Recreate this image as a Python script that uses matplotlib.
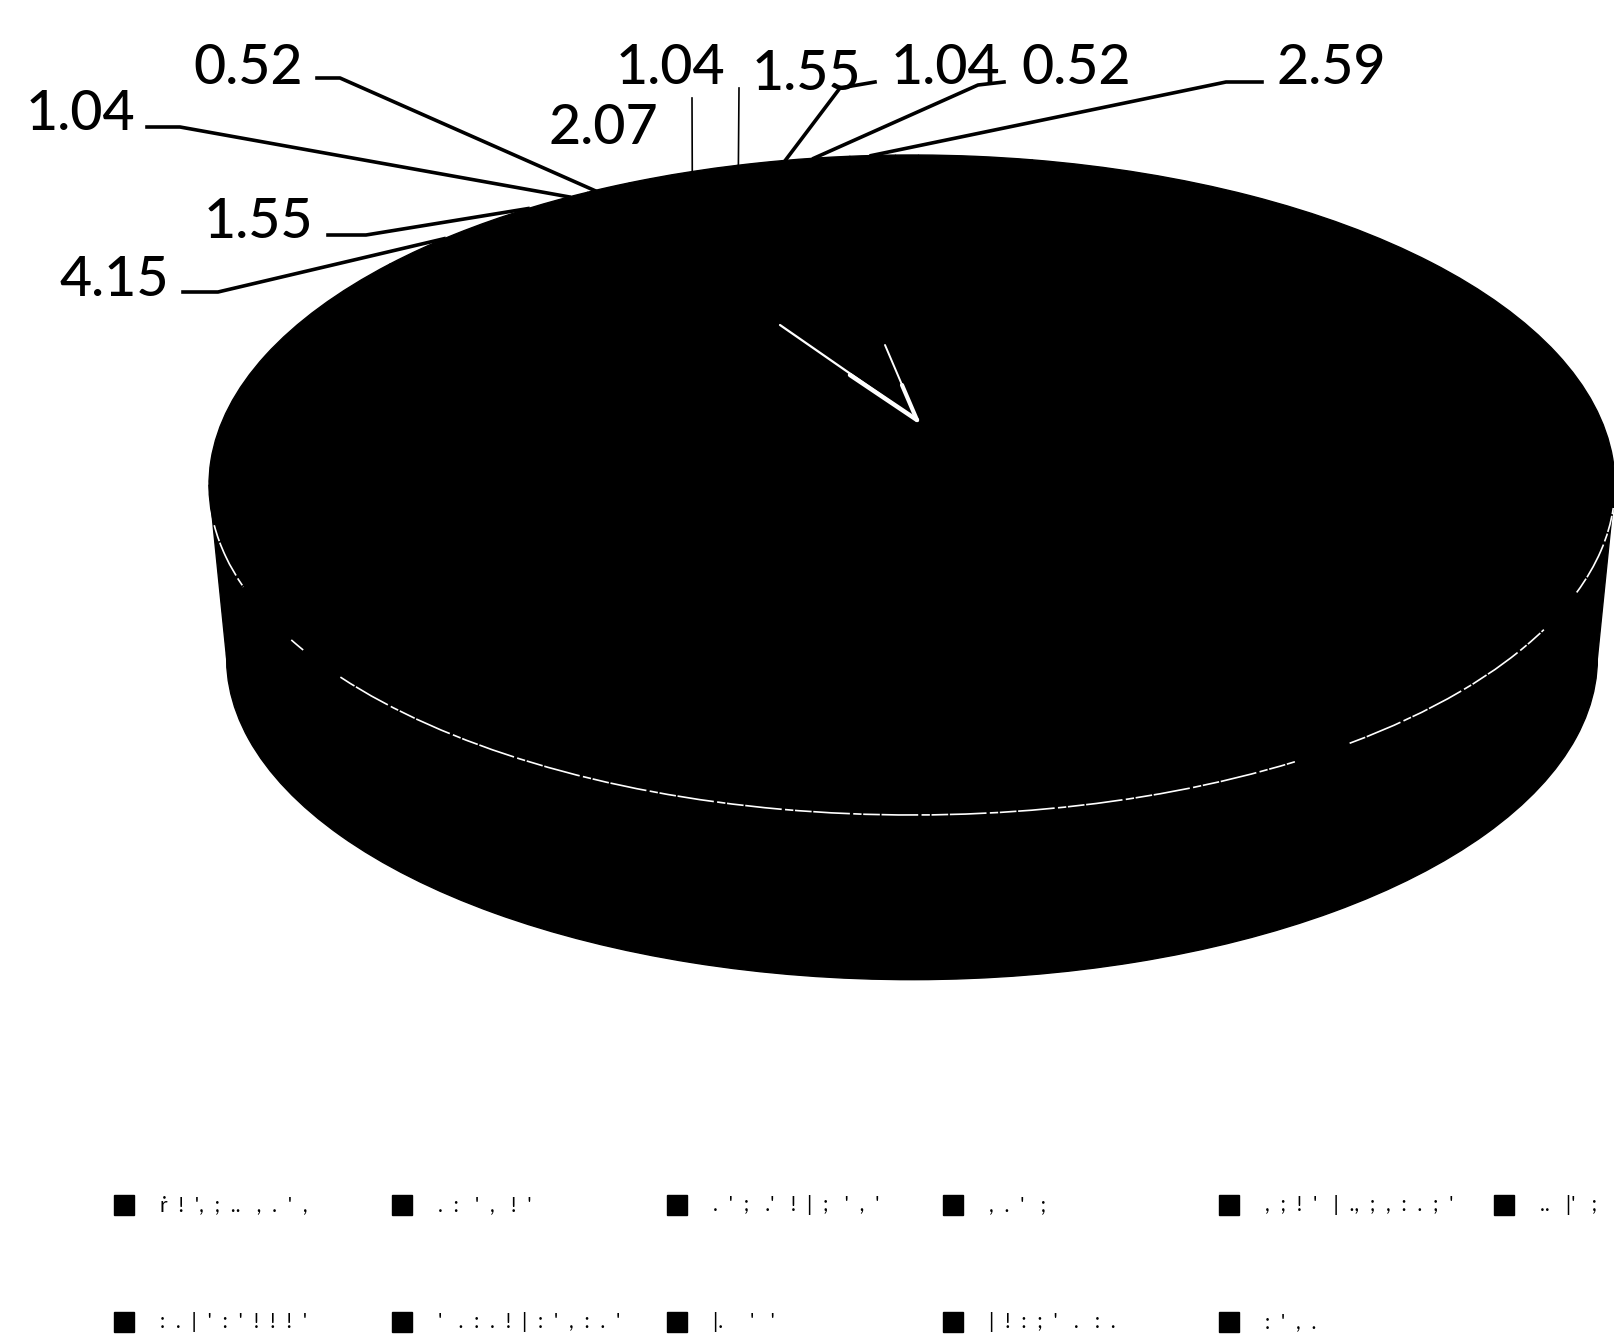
import matplotlib
matplotlib.use("Agg")
import matplotlib.pyplot as plt
from matplotlib.patches import Arc
import numpy as np

plt.rcParams['font.family'] = ['Lato', 'DejaVu Sans']

# Values. The biggest slice has no visible label (black on black)
values = [4.15, 1.55, 1.04, 0.52, 2.07, 1.04, 1.55, 1.04, 0.52, 2.59, 83.93]
value_labels = ["4.15", "1.55", "1.04", "0.52", "2.07", "1.04", "1.55", "1.04", "0.52", "2.59"]

# legend text in the source is illegible speckle, so only its dots are kept
legend_labels = [
    "ṙ  !  ',  ;  ..   ,  .  '  ,", ".  :   '  ,   !  '", ".  '  ;   .'   !  |  ;   '  ,  '", ",  .  '   ;",
    ",  ;  !  '   |  .,  ;  ,  :  .  ;  '", "..   |'   ;",
    ":  .  |  '  :  '  !  !  !  '", "'   .  :  .  !  |  :  '  ,  :  .  '", "|.     '   '",
    "|  !  :  ;  '   .   :  .", ":  '  ,  .",
]

# label centre and where the leader's stub starts/ends, in picture pixels (None = no leader)
label_pos = [(114, 280), (258, 222), (80, 115), (248, 69), (603, 128),
             (670, 69), (806, 74), (945, 69), (1076, 69), (1331, 69)]
stubs = [((183, 292), (218, 292)), ((328, 235), (366, 235)), ((147, 127), (180, 127)),
         ((317, 78), (340, 78)), None,
         ((692, 98), (692, 98)), ((739, 88), (739, 88)),
         ((875, 82), (840, 88)), ((1004, 82), (978, 85)), ((1262, 82), (1226, 82))]

# top ellipse geometry in picture pixels
W, H = 1615, 1340
cx, cy, rx, ry = 912, 485, 703, 330


def px(x, y):
    return (x - cx) / rx, (cy - y) / ry


fig = plt.figure(figsize=(W / 100, H / 100), dpi=100)
ax = fig.add_axes([0, 0, 1, 1])

colors = ["black"] * len(values)
start = 138
far_side = 0.84  # far slices look narrower on the tilted pie

# side of the cylinder: lower pie, then the band up to the top pie
ax.pie(values, colors=colors, radius=0.975, center=(0, -0.524), startangle=start,
       counterclock=False, wedgeprops=dict(edgecolor="black"))
ax.fill([-1, 1, 0.975, -0.975], [0, 0, -0.524, -0.524], color="black")
ax.pie(values, colors=colors, radius=1, center=(0, 0), startangle=start,
       counterclock=False, wedgeprops=dict(edgecolor="black"))

ax.set_aspect("auto")
ax.set_xlim(px(0, 0)[0], px(W, 0)[0])
ax.set_ylim(px(0, H)[1], px(0, 0)[1])
ax.axis("off")

# broken white rim along the front of the top face
for t1, t2 in [(187, 198), (208, 210), (215.6, 303), (308.5, 334), (341, 356)]:
    ax.add_patch(Arc((0, 0), 2, 2, theta1=t1, theta2=t2, color="white", lw=1.2,
                     ls=(0, (10, 1, 22, 2, 5, 1))))

# white slit near the middle of the top face
tip = px(917, 420)
for tail, lw in [(px(780, 325), 1.6), (px(885, 345), 1.4), (px(850, 375), 3.2), (px(902, 385), 3.0)]:
    ax.plot([tail[0], tip[0]], [tail[1], tip[1]], color="white", lw=lw, solid_capstyle="round")

# data labels and leaders, attachment points come from the slice mid-angles
cum = np.cumsum(values)
mids = np.radians(start - far_side * (cum - np.array(values) / 2) * 3.6)
for i, lab in enumerate(value_labels):
    x, y = px(*label_pos[i])
    ax.text(x, y, lab, fontsize=40, fontweight="medium", ha="center", va="center", color="black")
    if stubs[i] is None:
        continue
    a, b = px(*stubs[i][0]), px(*stubs[i][1])
    ax.plot([a[0], b[0], np.cos(mids[i])], [a[1], b[1], np.sin(mids[i])], color="black",
            lw=2.6 if a != b else 1.2)

# legend, two rows
col_x = [124, 402, 677, 953, 1229, 1504]
row_y = [1205, 1322]
for i, lab in enumerate(legend_labels):
    x, y = px(col_x[i % 6], row_y[i // 6])
    ax.plot([x], [y], marker="s", ms=14, color="black")
    ax.text(x + 36 / rx, y, lab, fontsize=15, ha="left", va="center", color="black")

fig.savefig("out.png", dpi=100, facecolor="white")
